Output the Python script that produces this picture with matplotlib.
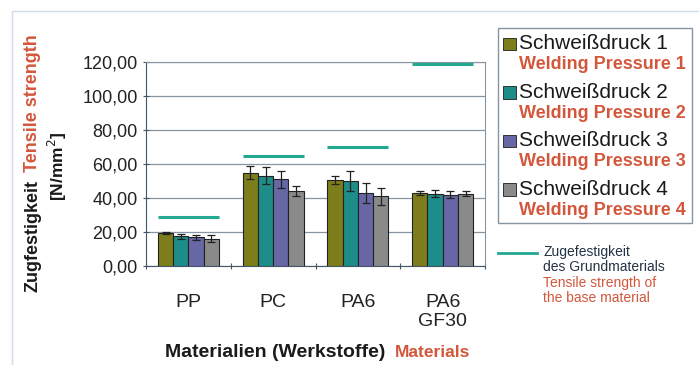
import numpy as np
import matplotlib.pyplot as plt
from matplotlib.patches import Rectangle
from matplotlib.lines import Line2D

# -----------------------------------------------------------------------------
# Data
# -----------------------------------------------------------------------------

materials = ["PP", "PC", "PA6", "PA6\nGF30"]
series_de = ["Schweißdruck 1", "Schweißdruck 2", "Schweißdruck 3", "Schweißdruck 4"]
series_en = ["Welding Pressure 1", "Welding Pressure 2",
             "Welding Pressure 3", "Welding Pressure 4"]

pressure_1 = [19.5, 55.0, 50.5, 43.0]
pressure_2 = [17.5, 53.0, 50.0, 42.5]
pressure_3 = [17.0, 51.0, 43.0, 42.0]
pressure_4 = [16.0, 44.0, 41.0, 42.5]

error_1 = [0.5, 4.0, 2.5, 1.0]
error_2 = [1.5, 5.0, 6.0, 2.0]
error_3 = [1.5, 5.0, 6.0, 2.0]
error_4 = [2.0, 3.0, 5.0, 1.5]

base_material_strength = [29.0, 65.0, 70.0, 119.0]

y_ticks = [0, 20, 40, 60, 80, 100, 120]

# -----------------------------------------------------------------------------
# Style
# -----------------------------------------------------------------------------

bar_colors = ["#7d7d1c", "#1e8c88", "#6767a6", "#8a8a8a"]
line_color = "#22a98f"
red = "#d4573c"
dark = "#1a1a1a"

plt.rcParams["font.family"] = ["Liberation Sans", "DejaVu Sans"]

figure = plt.figure(figsize=(6.99, 3.65), dpi=100)
axis = figure.add_axes([0.209, 0.271, 0.485, 0.559])

# outer frame of the chart area
figure.patches.append(Rectangle((0.017, -0.05), 1.2, 1.02,
                                transform=figure.transFigure,
                                fill=False, edgecolor="#cfdbe6", linewidth=1.0))

values = [pressure_1, pressure_2, pressure_3, pressure_4]
errors = [error_1, error_2, error_3, error_4]

x = np.arange(len(materials))
bar_width = 0.18
offsets = (np.arange(4) - 1.5) * bar_width

for index in range(4):
    axis.bar(x + offsets[index], values[index], width=bar_width,
             color=bar_colors[index], edgecolor="#222222", linewidth=0.8,
             yerr=errors[index], capsize=3,
             error_kw=dict(ecolor="#222222", elinewidth=0.9, capthick=0.9),
             zorder=3)

group_half = 2 * bar_width
for position, strength in zip(x, base_material_strength):
    axis.hlines(strength, position - group_half, position + group_half,
                color=line_color, linewidth=2.2, zorder=4)

axis.set_xlim(-0.5, len(materials) - 0.5)
axis.set_ylim(0, 120)
axis.set_yticks(y_ticks)
axis.set_yticklabels([f"{tick:.2f}".replace(".", ",") for tick in y_ticks],
                     fontsize=13, color="#222222")

axis.set_xticks(np.arange(len(materials) + 1) - 0.5)
axis.set_xticklabels([])
axis.set_xticks(x, minor=True)
axis.set_xticklabels(materials, minor=True, fontsize=14, color="#222222",
                     linespacing=1.15)
axis.tick_params(axis="x", which="minor", length=0, pad=20)
axis.tick_params(axis="x", which="major", length=5, direction="inout",
                 color="#445566")
axis.tick_params(axis="y", length=5, direction="inout", color="#445566")

axis.grid(axis="y", color="#8795a3", linewidth=0.9, zorder=0)
for side in ["top", "right"]:
    axis.spines[side].set_color("#8795a3")
for side in ["left", "bottom"]:
    axis.spines[side].set_color("#445566")

# y axis label (two coloured parts plus unit)
figure.text(0.047, 0.2, "Zugfestigkeit", rotation=90, fontsize=13,
            fontweight="bold", color=dark, ha="center", va="bottom")
figure.text(0.047, 0.53, "Tensile strength", rotation=90, fontsize=13,
            fontweight="bold", color=red, ha="center", va="bottom")
figure.text(0.082, 0.545, "[N/mm$^2$]", rotation=90, fontsize=12.5,
            fontweight="bold", color=dark, ha="center", va="center")

# x axis label
figure.text(0.551, 0.035, "Materialien (Werkstoffe)", fontsize=14,
            fontweight="bold", color=dark, ha="right", va="center")
figure.text(0.565, 0.035, "Materials", fontsize=12.5,
            fontweight="bold", color=red, ha="left", va="center")

# legend box
figure.patches.append(Rectangle((0.712, 0.389), 0.278, 0.534,
                                transform=figure.transFigure, fill=False,
                                edgecolor="#8795a3", linewidth=1.0))
for index in range(4):
    top = 0.885 - index * 0.133
    figure.patches.append(Rectangle((0.720, top - 0.022), 0.018, 0.034,
                                    transform=figure.transFigure,
                                    facecolor=bar_colors[index],
                                    edgecolor="#333333", linewidth=0.7))
    figure.text(0.742, top - 0.005, series_de[index], fontsize=15,
                color=dark, ha="left", va="center")
    figure.text(0.742, top - 0.062, series_en[index], fontsize=13,
                fontweight="bold", color=red, ha="left", va="center")

# base material line legend
figure.lines.append(Line2D([0.712, 0.768], [0.306, 0.306],
                           transform=figure.transFigure,
                           color=line_color, linewidth=2.0))
figure.text(0.777, 0.33, "Zugefestigkeit\ndes Grundmaterials", fontsize=10,
            color="#223344", ha="left", va="top", linespacing=1.15)
figure.text(0.777, 0.245, "Tensile strength of\nthe base material", fontsize=10,
            color=red, ha="left", va="top", linespacing=1.15)

plt.savefig("out.png", dpi=100)
